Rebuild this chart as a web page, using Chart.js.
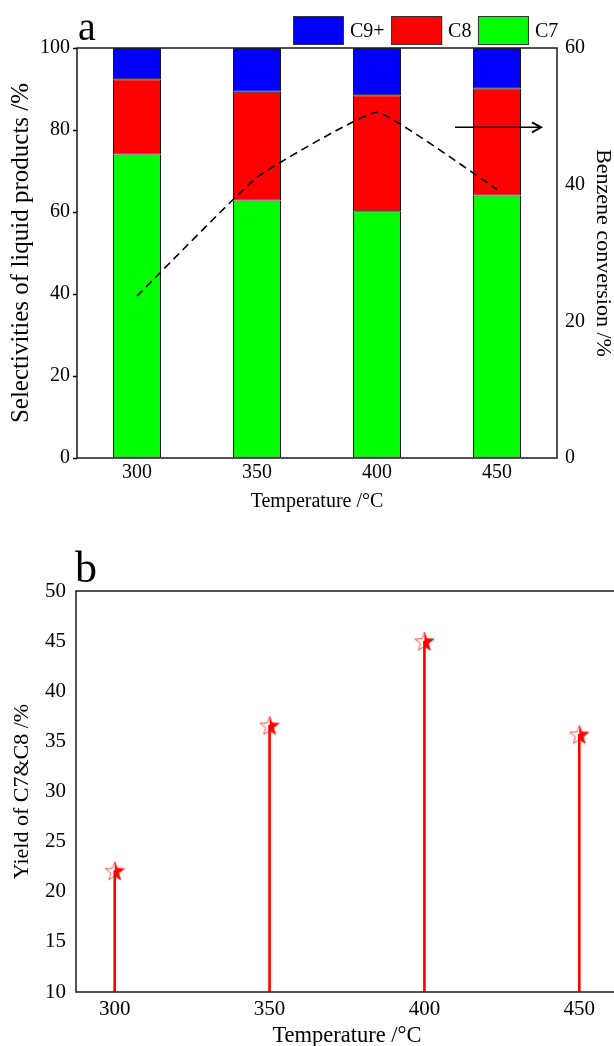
<!DOCTYPE html>
<html><head><meta charset="utf-8">
<script src="https://cdn.jsdelivr.net/npm/chart.js@4.4.1/dist/chart.umd.min.js"></script>
<style>
html,body{margin:0;padding:0;background:#fff;overflow:hidden;width:614px;height:1046px;}
#wrap{position:relative;width:614px;height:1046px;overflow:hidden;background:#fff;}
#c1{position:absolute;left:0;top:0;}
#c2{position:absolute;left:0;top:540px;}
</style></head><body>
<div id="wrap">
<canvas id="c1" width="614" height="514"></canvas>
<canvas id="c2" width="620" height="506"></canvas>
</div>
<script>
// ---- data (panel a) ----
const temperatures = ['300', '350', '400', '450'];
const selC7 = [74.0, 62.8, 60.2, 64.0];
const selC8 = [18.4, 26.5, 28.3, 26.2];
const selC9plus = [7.6, 10.7, 11.5, 9.8];
const benzeneConversion = [23.7, 41.1, 50.6, 39.3];
// ---- data (panel b) ----
const yieldTemps = [300, 350, 400, 450];
const yieldC7C8 = [22.1, 36.6, 45.0, 35.7];

const serif = "'Liberation Serif','Times New Roman',serif";
const ink = '#000';

const framePlugin = {
  id: 'frame',
  afterDatasetsDraw(chart) {
    const {ctx, chartArea: a} = chart;
    ctx.save();
    ctx.strokeStyle = '#1a1a1a';
    ctx.lineWidth = 1.5;
    ctx.strokeRect(a.left, a.top, a.right - a.left, a.bottom - a.top);
    ctx.restore();
  }
};

function letterPlugin(letter, x, y, size) {
  return {
    id: 'letter' + letter,
    afterDraw(chart) {
      const ctx = chart.ctx;
      ctx.save();
      ctx.font = size + 'px ' + serif;
      ctx.fillStyle = ink;
      ctx.textBaseline = 'alphabetic';
      ctx.fillText(letter, x, y);
      ctx.restore();
    }
  };
}

const legendPlugin = {
  id: 'customLegend',
  afterDraw(chart) {
    const ctx = chart.ctx;
    ctx.save();
    ctx.font = '20px ' + serif;
    let x = 293;
    const y = 16, bw = 51, bh = 29;
    const items = chart.data.datasets.filter(d => d.type === 'bar').slice().reverse();
    items.forEach(d => {
      ctx.fillStyle = d.backgroundColor;
      ctx.fillRect(x, y, bw, bh);
      ctx.strokeStyle = '#333';
      ctx.lineWidth = 1;
      ctx.strokeRect(x + 0.5, y + 0.5, bw - 1, bh - 1);
      x += bw + 6;
      ctx.fillStyle = ink;
      ctx.textBaseline = 'middle';
      ctx.fillText(d.label, x, y + bh / 2 + 1);
      x += ctx.measureText(d.label).width + 6.5;
    });
    ctx.restore();
  }
};

const arrowPlugin = {
  id: 'arrow',
  afterDatasetsDraw(chart) {
    const {ctx, chartArea: a, scales} = chart;
    const y = scales.y1.getPixelForValue(48.4);
    const x0 = a.right - 102, x1 = a.right - 16;
    ctx.save();
    ctx.strokeStyle = ink;
    ctx.lineWidth = 1.5;
    ctx.beginPath(); ctx.moveTo(x0, y); ctx.lineTo(x1, y); ctx.stroke();
    ctx.lineWidth = 2;
    ctx.beginPath(); ctx.moveTo(x1 - 9, y - 5); ctx.lineTo(x1, y); ctx.lineTo(x1 - 9, y + 5); ctx.stroke();
    ctx.restore();
  }
};

const tickFont20 = {family: serif, size: 20};
const noPad = s => { s.paddingLeft = 0; s.paddingRight = 0; s.paddingTop = 0; s.paddingBottom = 0; };

new Chart(document.getElementById('c1'), {
  data: {
    labels: temperatures,
    datasets: [
      {type: 'bar', label: 'C7', data: selC7, backgroundColor: '#00ff00', borderColor: '#1a1a1a', borderWidth: 1, borderSkipped: false, stack: 's', yAxisID: 'y', order: 1},
      {type: 'bar', label: 'C8', data: selC8, backgroundColor: '#ff0000', borderColor: '#1a1a1a', borderWidth: 1, borderSkipped: false, stack: 's', yAxisID: 'y', order: 1},
      {type: 'bar', label: 'C9+', data: selC9plus, backgroundColor: '#0000ff', borderColor: '#1a1a1a', borderWidth: 1, borderSkipped: false, stack: 's', yAxisID: 'y', order: 1},
      {type: 'line', label: 'Benzene conversion', data: benzeneConversion, yAxisID: 'y1', borderColor: ink, borderWidth: 1.6, borderDash: [8, 5], pointRadius: 0, tension: 0.1, fill: false, order: 0}
    ]
  },
  options: {
    responsive: false, animation: false, devicePixelRatio: 1, events: [],
    layout: {autoPadding: false, padding: {top: 48, left: 0, right: 0, bottom: 0}},
    datasets: {bar: {categoryPercentage: 0.4, barPercentage: 1}},
    plugins: {legend: {display: false}, tooltip: {enabled: false}},
    scales: {
      x: {
        stacked: true, offset: true,
        grid: {display: false, drawTicks: false},
        border: {display: false},
        ticks: {font: tickFont20, color: ink, padding: 3},
        title: {display: true, text: 'Temperature /°C', font: {family: serif, size: 20, lineHeight: 1}, color: ink, padding: {top: 0, bottom: 2}},
        afterFit: s => { s.height = 56; noPad(s); }
      },
      y: {
        stacked: true, min: 0, max: 100,
        ticks: {stepSize: 20, font: tickFont20, color: ink, padding: 3},
        grid: {drawOnChartArea: false, drawTicks: true, tickLength: 4, tickColor: ink, tickWidth: 1.5},
        border: {display: false},
        title: {display: true, text: 'Selectivities of liquid products /%', font: {family: serif, size: 25, lineHeight: 1}, color: ink, padding: {top: 9, bottom: 0}},
        afterFit: s => { s.width = 77; noPad(s); }
      },
      y1: {
        position: 'right', min: 0, max: 60,
        ticks: {stepSize: 20, font: tickFont20, color: ink, padding: 8},
        grid: {drawOnChartArea: false, drawTicks: false},
        border: {display: false},
        title: {display: true, text: 'Benzene conversion /%', font: {family: serif, size: 22, lineHeight: 1}, color: ink, padding: {top: 0, bottom: 0}},
        afterFit: s => { s.width = 57; noPad(s); }
      }
    }
  },
  plugins: [framePlugin, legendPlugin, arrowPlugin, letterPlugin('a', 78, 40, 40)]
});

function makeStar() {
  const s = 24;
  const c = document.createElement('canvas');
  c.width = s; c.height = s;
  const g = c.getContext('2d');
  const cx = s / 2, cy = s / 2 + 1, R = 10, r = 4.2;
  g.beginPath();
  for (let i = 0; i < 10; i++) {
    const ang = -Math.PI / 2 + i * Math.PI / 5;
    const rad = i % 2 ? r : R;
    g.lineTo(cx + rad * Math.cos(ang), cy + rad * Math.sin(ang));
  }
  g.closePath();
  g.save();
  g.clip();
  g.fillStyle = '#ff0000';
  g.fillRect(cx, 0, s, s);
  g.restore();
  g.strokeStyle = 'rgba(255,0,0,0.7)';
  g.lineWidth = 1;
  g.stroke();
  return c;
}
const starImg = makeStar();
const yieldPoints = yieldTemps.map((t, i) => ({x: t, y: yieldC7C8[i]}));

new Chart(document.getElementById('c2'), {
  data: {
    datasets: [
      {type: 'scatter', label: 'Yield', data: yieldPoints, pointStyle: starImg, pointRadius: 10, order: 0},
      {type: 'bar', label: 'stem', data: yieldPoints, backgroundColor: '#ff0000', barThickness: 2, borderWidth: 0, base: 10, order: 1}
    ]
  },
  options: {
    responsive: false, animation: false, devicePixelRatio: 1, events: [],
    layout: {autoPadding: false, padding: {top: 51, left: 0, right: 2, bottom: 0}},
    plugins: {legend: {display: false}, tooltip: {enabled: false}},
    scales: {
      x: {
        type: 'linear', min: 287.5, max: 462.5, offset: false,
        afterBuildTicks: s => { s.ticks = yieldTemps.map(v => ({value: v})); },
        grid: {display: false, drawTicks: false, offset: false},
        border: {display: false},
        ticks: {font: {family: serif, size: 21}, color: ink, padding: 5},
        title: {display: true, text: 'Temperature /°C', font: {family: serif, size: 22.5, lineHeight: 1}, color: ink, padding: {top: 0, bottom: -1}},
        afterFit: s => { s.height = 54; noPad(s); }
      },
      y: {
        min: 10, max: 50,
        ticks: {stepSize: 5, font: {family: serif, size: 21}, color: ink, padding: 10},
        grid: {display: false, drawTicks: false},
        border: {display: false},
        title: {display: true, text: 'Yield of C7&C8 /%', font: {family: serif, size: 22, lineHeight: 1}, color: ink, padding: {top: 11, bottom: 0}},
        afterFit: s => { s.width = 76; noPad(s); }
      }
    }
  },
  plugins: [framePlugin, letterPlugin('b', 75, 42, 44)]
});
</script>
</body></html>
